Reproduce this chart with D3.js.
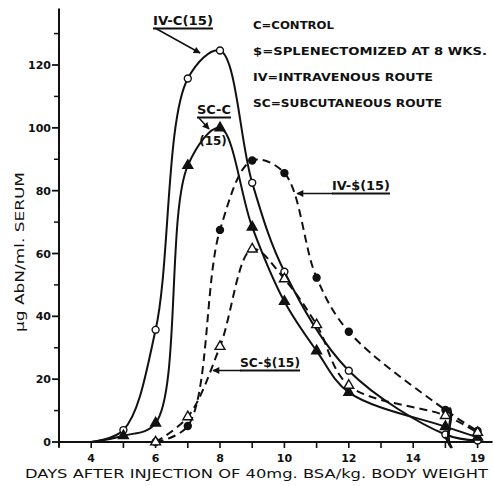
<!DOCTYPE html>
<html>
<head>
<meta charset="utf-8">
<script src="https://cdn.jsdelivr.net/npm/d3@7"></script>
<style>
  body { margin: 0; background: #fff; }
  svg { display: block; }
  .lbl { font-family: "DejaVu Sans", sans-serif; font-weight: bold; fill: #111; }
  .ttl { font-family: "DejaVu Sans", sans-serif; fill: #111; }
</style>
</head>
<body>
<svg id="chart"></svg>
<script>
// values (ug AbN / ml serum by day)
var ivcDays = [5, 6, 7, 8, 9, 10, 12, 15, 19];
var ivcVals = [3.8, 35.7, 115.7, 124.6, 82.5, 54.2, 22.7, 2.4, 0.5];
var sccDays = [5, 6, 7, 8, 9, 10, 11, 12, 15, 19];
var sccVals = [2, 6, 88, 100, 68.4, 44.7, 29, 15.8, 4.9, 1.5];
var ivsDays = [6, 7, 8, 9, 10, 11, 12, 15, 19];
var ivsVals = [0, 5.1, 67.5, 89.6, 85.6, 52.3, 35.1, 10.2, 3.5];
var scsDays = [6, 7, 8, 9, 10, 11, 12, 15, 19];
var scsVals = [0, 8, 30.4, 61.4, 51.9, 37.3, 18, 8.4, 3];

var xTicks = [3, 4, 5, 6, 7, 8, 9, 10, 11, 12, 13, 14, 15, 19];
var xLabels = [4, 6, 8, 10, 12, 14, 19];
var yMajor = [0, 20, 40, 60, 80, 100, 120];
var yMinor = [10, 30, 50, 70, 90, 110, 130];

var legendLines = ["C=CONTROL", "$=SPLENECTOMIZED AT 8 WKS.", "IV=INTRAVENOUS ROUTE", "SC=SUBCUTANEOUS ROUTE"];

var width = 493, height = 486;
var left = 59, unit = 32.2;

var svg = d3.select('#chart').attr('width', width).attr('height', height);

// axis is broken between 15 and 19
var x = d3.scaleLinear()
    .domain([3, 15, 19])
    .range([left, left + 12 * unit, left + 13 * unit]);
var y = d3.scaleLinear().domain([0, 120]).range([442, 65]);

svg.append("defs").append("marker")
    .attr("id", "arr")
    .attr("viewBox", "0 0 10 10")
    .attr("refX", 9).attr("refY", 5)
    .attr("markerWidth", 9).attr("markerHeight", 7)
    .attr("markerUnits", "userSpaceOnUse")
    .attr("orient", "auto")
    .append("path").attr("d", "M0,0 L10,5 L0,10 Z").attr("fill", "#111");

// y axis
var yAxis = svg.append("g");
yAxis.append("line")
    .attr("x1", x(3)).attr("x2", x(3))
    .attr("y1", y(0) + 5).attr("y2", y(138))
    .attr("stroke", "#111").attr("stroke-width", 2);
yAxis.selectAll(".maj").data(yMajor).enter().append("line")
    .attr("x1", x(3) - 7).attr("x2", x(3))
    .attr("y1", function (d) { return y(d); })
    .attr("y2", function (d) { return y(d); })
    .attr("stroke", "#111").attr("stroke-width", 1.8);
yAxis.selectAll(".min").data(yMinor).enter().append("line")
    .attr("x1", x(3) - 5).attr("x2", x(3))
    .attr("y1", function (d) { return y(d); })
    .attr("y2", function (d) { return y(d); })
    .attr("stroke", "#111").attr("stroke-width", 1.5);
yAxis.selectAll("text").data(yMajor).enter().append("text")
    .attr("class", "lbl")
    .attr("x", x(3) - 8)
    .attr("y", function (d) { return y(d) + 4; })
    .attr("text-anchor", "end")
    .style("font-size", "11px")
    .text(function (d) { return d; });

// x axis
var xAxis = svg.append("g");
xAxis.append("line")
    .attr("x1", x(3) - 1).attr("x2", x(19) + 15)
    .attr("y1", y(0)).attr("y2", y(0))
    .attr("stroke", "#111").attr("stroke-width", 2);
xAxis.selectAll(".tk").data(xTicks).enter().append("line")
    .attr("x1", function (d) { return x(d); })
    .attr("x2", function (d) { return x(d); })
    .attr("y1", y(0)).attr("y2", y(0) + 6)
    .attr("stroke", "#111").attr("stroke-width", 1.6);
xAxis.selectAll("text").data(xLabels).enter().append("text")
    .attr("class", "lbl")
    .attr("x", function (d) { return x(d); })
    .attr("y", y(0) + 20)
    .attr("text-anchor", "middle")
    .style("font-size", "11px")
    .text(function (d) { return d; });

// axis titles
svg.append("text").attr("class", "ttl")
    .attr("x", 25).attr("y", 478)
    .attr("textLength", 463).attr("lengthAdjust", "spacingAndGlyphs")
    .style("font-size", "13px")
    .text("DAYS AFTER INJECTION OF 40mg. BSA/kg. BODY WEIGHT");
svg.append("text").attr("class", "ttl")
    .attr("transform", "translate(24,252)rotate(-90)")
    .attr("text-anchor", "middle")
    .attr("textLength", 160).attr("lengthAdjust", "spacingAndGlyphs")
    .style("font-size", "13px")
    .text("\u03bcg AbN/ml. SERUM");

// curves
var line = d3.line()
    .x(function (d) { return x(d[0]); })
    .y(function (d) { return y(d[1]); })
    .curve(d3.curveCatmullRom.alpha(0.5));

function pairs(days, vals, start) {
    var p = days.map(function (d, i) { return [d, vals[i]]; });
    if (start != null) p.unshift([start, 0]);
    return p;
}

var series = [
    {days: ivcDays, vals: ivcVals, start: 4, dash: null, sym: "circle", fill: "#fff"},
    {days: sccDays, vals: sccVals, start: 4, dash: null, sym: "tri", fill: "#111"},
    {days: ivsDays, vals: ivsVals, start: null, dash: "8,5", sym: "circle", fill: "#111"},
    {days: scsDays, vals: scsVals, start: null, dash: "8,5", sym: "tri", fill: "#fff"}
];

series.forEach(function (s) {
    svg.append("path")
        .attr("d", line(pairs(s.days, s.vals, s.start)))
        .attr("fill", "none")
        .attr("stroke", "#111")
        .attr("stroke-width", 2)
        .attr("stroke-dasharray", s.dash);
});

series.forEach(function (s) {
    var shape = s.sym === "circle" ? d3.symbolCircle : d3.symbolTriangle;
    svg.selectAll(null).data(pairs(s.days, s.vals, null)).enter().append("path")
        .attr("transform", function (d) { return "translate(" + x(d[0]) + "," + y(d[1]) + ")"; })
        .attr("d", d3.symbol().type(shape).size(s.sym === "circle" ? 38 : 42))
        .attr("fill", s.fill)
        .attr("stroke", "#111")
        .attr("stroke-width", 1.4);
});

// break marks between 15 and 19
[15.45, 15.6].forEach(function (b) {
    var bx = x(b);
    svg.append("path")
        .attr("d", "M" + bx + "," + y(11) + " C" + (bx + 5) + "," + y(7) + " " + (bx - 5) + "," + y(4) + " " + bx + "," + y(-1))
        .attr("fill", "none").attr("stroke", "#111").attr("stroke-width", 1.6);
    svg.append("line")
        .attr("x1", bx - 4).attr("y1", y(0) - 5)
        .attr("x2", bx + 2).attr("y2", y(0) + 6)
        .attr("stroke", "#111").attr("stroke-width", 1.6);
});

// legend
svg.selectAll(".leg").data(legendLines).enter().append("text")
    .attr("class", "lbl")
    .attr("x", 253)
    .attr("y", function (d, i) { return 29 + i * 26; })
    .attr("textLength", function (d) { return d.length * 9; })
    .attr("lengthAdjust", "spacingAndGlyphs")
    .style("font-size", "11px")
    .text(function (d) { return d; });

// curve labels
function label(txt, lx, ly, w, ul, fs) {
    svg.append("text").attr("class", "lbl")
        .attr("x", lx).attr("y", ly)
        .attr("textLength", w).attr("lengthAdjust", "spacingAndGlyphs")
        .style("font-size", (fs || 11.5) + "px")
        .text(txt);
    if (ul) {
        svg.append("rect")
            .attr("x", lx).attr("y", ly + 2.5)
            .attr("width", w).attr("height", 2)
            .attr("fill", "#111");
    }
}
function arrow(x1, y1, x2, y2) {
    svg.append("line")
        .attr("x1", x1).attr("y1", y1).attr("x2", x2).attr("y2", y2)
        .attr("stroke", "#111").attr("stroke-width", 1.5)
        .attr("marker-end", "url(#arr)");
}

label("IV-C(15)", 153, 25, 60, true);
arrow(155, 28, 200, 53);
label("SC-C", 197, 114, 34, true);
svg.append("text").attr("class", "lbl")
    .attr("x", 213).attr("y", 145)
    .attr("text-anchor", "middle")
    .style("font-size", "12px")
    .text("(15)");
arrow(199, 118, 209, 129);
label("IV-$(15)", 332, 190, 58, true);
arrow(333, 193.5, 297, 193.5);
label("SC-$(15)", 240, 367, 60, true);
arrow(241, 370.5, 213, 370.5);
</script>
</body>
</html>
